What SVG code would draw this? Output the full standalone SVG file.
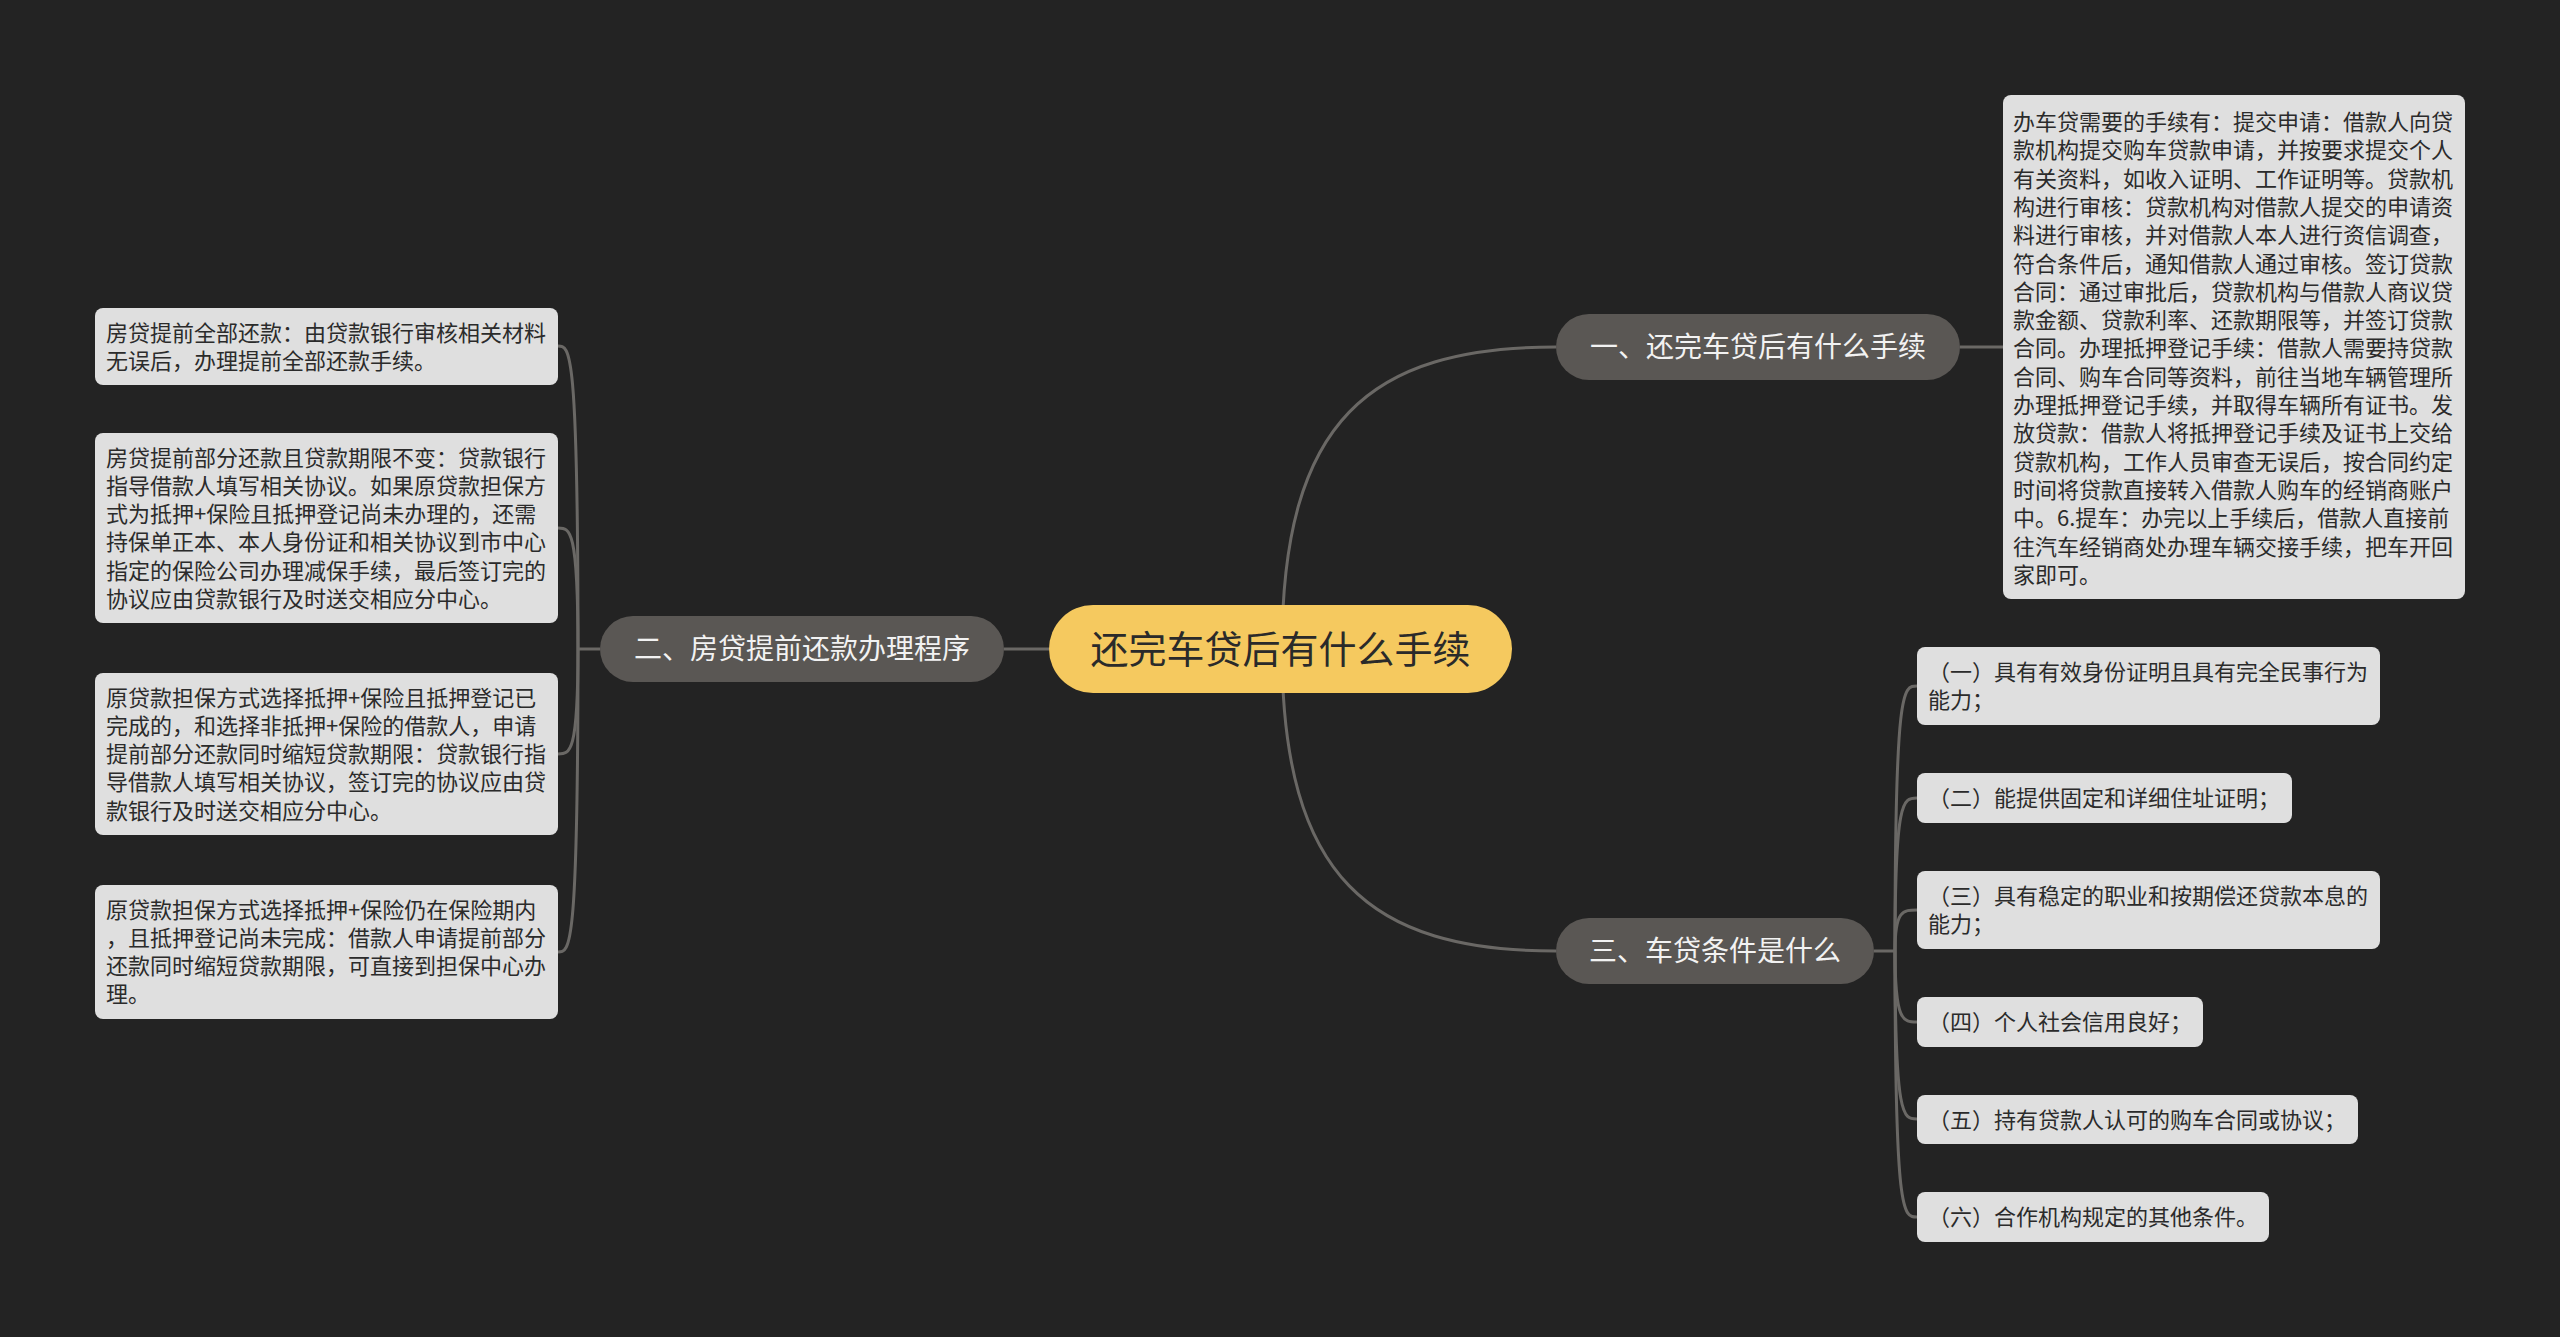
<svg xmlns="http://www.w3.org/2000/svg" width="2560" height="1337" viewBox="0 0 2560 1337">
<style>
.bg{fill:#232323}
.root rect{fill:#f5c95f}
.root text{font-family:"Noto Sans CJK SC","Noto Sans",sans-serif;font-size:38px;fill:#2a2a2a;text-anchor:middle}
.br rect{fill:#5a5754}
.br text{font-family:"Noto Sans CJK SC","Noto Sans",sans-serif;font-size:28px;fill:#f2f2f2;text-anchor:middle}
.lf rect{fill:#dfdfdf}
.lf text{font-family:"Noto Sans CJK SC","Noto Sans",sans-serif;font-size:22px;fill:#2b2b2b}
.conn path{fill:none;stroke:#6a6865;stroke-width:3}
</style>
<rect class="bg" x="0" y="0" width="2560" height="1337"/>
<g class="conn" id="connectors">
<path d="M1282,649 C1282,420 1370,347 1556,347"/>
<path d="M1282,649 C1282,878 1370,951 1556,951"/>
<path d="M1004,649 H1049"/>
<path d="M1960,347 H2003"/>
<path d="M600,649 H578"/>
<path d="M578,649 C578,346 570,346 558,346"/>
<path d="M578,649 C578,528 570,528 558,528"/>
<path d="M578,649 C578,754 570,754 558,754"/>
<path d="M578,649 C578,952 570,952 558,952"/>
<path d="M1874,951 H1895"/>
<path d="M1895,951 C1895,686 1903,686 1917,686"/>
<path d="M1895,951 C1895,798 1903,798 1917,798"/>
<path d="M1895,951 C1895,910 1903,910 1917,910"/>
<path d="M1895,951 C1895,1022 1903,1022 1917,1022"/>
<path d="M1895,951 C1895,1119 1903,1119 1917,1119"/>
<path d="M1895,951 C1895,1217 1903,1217 1917,1217"/>
</g>
<g id="root" class="root">
<rect x="1049" y="605" width="463" height="88" rx="44"/>
<text x="1280.5" y="663">还完车贷后有什么手续</text>
</g>
<g id="b1" class="br">
<rect x="1556" y="314" width="404" height="66" rx="33"/>
<text x="1758" y="357">一、还完车贷后有什么手续</text>
</g>
<g id="b2" class="br">
<rect x="600" y="616" width="404" height="66" rx="33"/>
<text x="802" y="659">二、房贷提前还款办理程序</text>
</g>
<g id="b3" class="br">
<rect x="1556" y="918" width="318" height="66" rx="33"/>
<text x="1715" y="961">三、车贷条件是什么</text>
</g>
<g id="r1" class="lf">
<rect x="2003" y="95" width="462" height="504" rx="8"/>
<text x="2013" y="130">办车贷需要的手续有：提交申请：借款人向贷</text>
<text x="2013" y="158.3">款机构提交购车贷款申请，并按要求提交个人</text>
<text x="2013" y="186.6">有关资料，如收入证明、工作证明等。贷款机</text>
<text x="2013" y="214.9">构进行审核：贷款机构对借款人提交的申请资</text>
<text x="2013" y="243.2">料进行审核，并对借款人本人进行资信调查，</text>
<text x="2013" y="271.5">符合条件后，通知借款人通过审核。签订贷款</text>
<text x="2013" y="299.8">合同：通过审批后，贷款机构与借款人商议贷</text>
<text x="2013" y="328.1">款金额、贷款利率、还款期限等，并签订贷款</text>
<text x="2013" y="356.4">合同。办理抵押登记手续：借款人需要持贷款</text>
<text x="2013" y="384.7">合同、购车合同等资料，前往当地车辆管理所</text>
<text x="2013" y="413">办理抵押登记手续，并取得车辆所有证书。发</text>
<text x="2013" y="441.3">放贷款：借款人将抵押登记手续及证书上交给</text>
<text x="2013" y="469.6">贷款机构，工作人员审查无误后，按合同约定</text>
<text x="2013" y="497.9">时间将贷款直接转入借款人购车的经销商账户</text>
<text x="2013" y="526.2">中。6.提车：办完以上手续后，借款人直接前</text>
<text x="2013" y="554.5">往汽车经销商处办理车辆交接手续，把车开回</text>
<text x="2013" y="582.8">家即可。</text>
</g>
<g id="l1" class="lf">
<rect x="95" y="308" width="463" height="77" rx="8"/>
<text x="106" y="340.5">房贷提前全部还款：由贷款银行审核相关材料</text>
<text x="106" y="368.8">无误后，办理提前全部还款手续。</text>
</g>
<g id="l2" class="lf">
<rect x="95" y="433" width="463" height="190" rx="8"/>
<text x="106" y="465.5">房贷提前部分还款且贷款期限不变：贷款银行</text>
<text x="106" y="493.8">指导借款人填写相关协议。如果原贷款担保方</text>
<text x="106" y="522.1">式为抵押+保险且抵押登记尚未办理的，还需</text>
<text x="106" y="550.4">持保单正本、本人身份证和相关协议到市中心</text>
<text x="106" y="578.7">指定的保险公司办理减保手续，最后签订完的</text>
<text x="106" y="607">协议应由贷款银行及时送交相应分中心。</text>
</g>
<g id="l3" class="lf">
<rect x="95" y="673" width="463" height="162" rx="8"/>
<text x="106" y="705.5">原贷款担保方式选择抵押+保险且抵押登记已</text>
<text x="106" y="733.8">完成的，和选择非抵押+保险的借款人，申请</text>
<text x="106" y="762.1">提前部分还款同时缩短贷款期限：贷款银行指</text>
<text x="106" y="790.4">导借款人填写相关协议，签订完的协议应由贷</text>
<text x="106" y="818.7">款银行及时送交相应分中心。</text>
</g>
<g id="l4" class="lf">
<rect x="95" y="885" width="463" height="134" rx="8"/>
<text x="106" y="917.5">原贷款担保方式选择抵押+保险仍在保险期内</text>
<text x="106" y="945.8">，且抵押登记尚未完成：借款人申请提前部分</text>
<text x="106" y="974.1">还款同时缩短贷款期限，可直接到担保中心办</text>
<text x="106" y="1002.4">理。</text>
</g>
<g id="c1" class="lf">
<rect x="1917" y="647" width="463" height="78" rx="8"/>
<text x="1928" y="679.5">（一）具有有效身份证明且具有完全民事行为</text>
<text x="1928" y="707.8">能力；</text>
</g>
<g id="c2" class="lf">
<rect x="1917" y="773" width="375" height="50" rx="8"/>
<text x="1928" y="806">（二）能提供固定和详细住址证明；</text>
</g>
<g id="c3" class="lf">
<rect x="1917" y="871" width="463" height="78" rx="8"/>
<text x="1928" y="903.5">（三）具有稳定的职业和按期偿还贷款本息的</text>
<text x="1928" y="931.8">能力；</text>
</g>
<g id="c4" class="lf">
<rect x="1917" y="997" width="286" height="50" rx="8"/>
<text x="1928" y="1030">（四）个人社会信用良好；</text>
</g>
<g id="c5" class="lf">
<rect x="1917" y="1095" width="441" height="49" rx="8"/>
<text x="1928" y="1127.5">（五）持有贷款人认可的购车合同或协议；</text>
</g>
<g id="c6" class="lf">
<rect x="1917" y="1192" width="352" height="50" rx="8"/>
<text x="1928" y="1225">（六）合作机构规定的其他条件。</text>
</g>
</svg>
